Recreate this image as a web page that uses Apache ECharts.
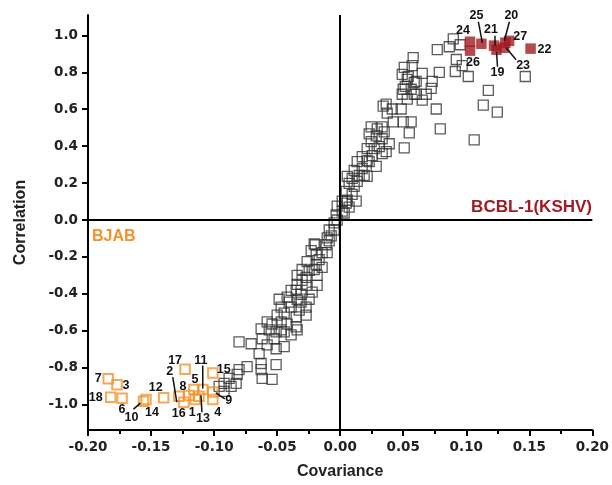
<!DOCTYPE html>
<html>
<head>
<meta charset="utf-8">
<script src="https://cdn.jsdelivr.net/npm/echarts@6/dist/echarts.min.js"></script>
<style>html,body{margin:0;padding:0;background:#fff}#c{width:612px;height:485px}</style>
</head>
<body>
<div id="c"></div>
<script>
// ---- data ----
var grayCov = [0.077,0.0865,0.0897,0.0952,0.0921,0.0968,0.0913,0.1016,0.1468,0.1175,0.1135,0.1246,0.1063,0.0762,0.0794,0.0786,0.073,
0.0579,0.0508,0.0571,0.0492,0.0532,0.0651,0.0603,0.0722,0.0516,0.0563,0.0492,0.0587,0.0683,0.0532,0.0651,0.0365,0.0413,0.0484,0.0373,0.0421,0.05,0.0563,0.0548,0.0508,
0.0246,0.0333,0.023,0.0286,0.0333,0.0389,0.0246,0.031,0.0214,0.0365,0.0175,0.0254,0.0214,0.0286,0.0135,0.0175,0.0111,0.0151,0.0095,0.0056,0.0071,0.0135,0.0111,0.0214,
0.0095,0.0056,0.0127,0.0048,0.0071,-0.0024,0.0016,-0.0032,-0.0024,-0.0048,-0.0048,-0.0087,-0.0071,-0.0103,-0.0206,-0.0087,-0.0111,-0.0198,-0.0143,-0.019,-0.0103,
-0.0262,-0.019,-0.0302,-0.0246,-0.0206,-0.0143,-0.0341,-0.027,-0.0183,-0.0341,-0.027,-0.0183,-0.0389,-0.0349,-0.031,-0.0421,-0.0341,-0.0246,-0.0484,-0.0468,-0.0389,-0.031,-0.027,
-0.0444,-0.0349,-0.027,-0.05,-0.054,-0.0468,-0.0421,-0.0349,-0.0563,-0.0627,-0.0468,-0.0341,-0.0508,-0.0444,-0.0389,-0.0619,-0.0524,-0.0579,-0.0508,-0.0444,
-0.0802,-0.0706,-0.0643,-0.0627,-0.0508,-0.0627,-0.0619,-0.054,-0.0738,-0.0802,-0.0817,-0.0825,-0.0881,-0.0921,-0.0865,-0.096,-0.0921,
0.054,0.0587,0.05,0.0603,0.0341,0.0294,0.0349,0.027,0.0333,0.023,0.019,0.0048,0.0016,0.0032,-0.023,-0.0167,-0.0302,-0.0222,-0.0405,-0.0325,-0.0579];
var grayCorr = [0.922,0.938,0.981,0.949,0.869,0.836,0.804,0.777,0.777,0.702,0.622,0.584,0.434,0.601,0.493,0.799,0.751,
0.879,0.826,0.836,0.788,0.761,0.794,0.751,0.713,0.724,0.708,0.681,0.681,0.681,0.654,0.649,0.627,0.601,0.601,0.579,0.531,0.531,0.531,0.472,0.391,
0.504,0.504,0.466,0.456,0.44,0.413,0.424,0.397,0.386,0.37,0.343,0.349,0.322,0.29,0.316,0.279,0.268,0.241,0.225,0.236,0.198,0.209,0.182,0.236,
0.139,0.107,0.102,0.091,0.07,0.075,0.048,0.027,0,-0.016,-0.054,-0.054,-0.086,-0.097,-0.129,-0.113,-0.134,-0.134,-0.177,-0.188,-0.177,
-0.225,-0.241,-0.268,-0.273,-0.268,-0.257,-0.3,-0.311,-0.3,-0.349,-0.354,-0.354,-0.381,-0.381,-0.402,-0.418,-0.429,-0.429,-0.429,-0.472,-0.472,-0.445,-0.472,
-0.504,-0.525,-0.515,-0.515,-0.563,-0.552,-0.563,-0.579,-0.595,-0.59,-0.595,-0.595,-0.606,-0.606,-0.622,-0.643,-0.643,-0.676,-0.697,-0.686,
-0.66,-0.67,-0.724,-0.777,-0.783,-0.81,-0.858,-0.863,-0.794,-0.81,-0.836,-0.885,-0.858,-0.885,-0.901,-0.901,-0.928,
0.777,0.745,0.708,0.681,0.617,0.493,0.477,0.386,0.359,0.316,0.241,0.155,0.102,0.038,-0.166,-0.214,-0.327,-0.391,-0.445,-0.488,-0.552];

var bjabIds  = ['1','2','3','4','5','6','7','8','9','10','11','12','13','14','15','16','17','18'];
var bjabCov  = [-0.115,-0.128,-0.177,-0.101,-0.116,-0.173,-0.184,-0.120,-0.101,-0.156,-0.109,-0.140,-0.112,-0.154,-0.101,-0.124,-0.123,-0.182];
var bjabCorr = [-0.972,-0.954,-0.892,-0.972,-0.918,-0.965,-0.860,-0.950,-0.931,-0.981,-0.918,-0.963,-0.954,-0.972,-0.829,-0.987,-0.808,-0.960];

var kshvIds  = ['19','20','21','22','23','24','25','26','27'];
var kshvCov  = [0.124,0.131,0.122,0.151,0.130,0.103,0.112,0.103,0.134];
var kshvCorr = [0.922,0.960,0.944,0.928,0.933,0.965,0.954,0.917,0.970];

var xTicks = [-0.20,-0.15,-0.10,-0.05,0.00,0.05,0.10,0.15,0.20];
var yTicks = [-1.0,-0.8,-0.6,-0.4,-0.2,0.0,0.2,0.4,0.6,0.8,1.0];

// ---- label layout (pixel offsets from each point: label centre, optional leader line) ----
var labelLayout = {
 '1':{d:[-3,13]}, '2':{d:[-9,-25],l:[-6,-19,-2,6]}, '3':{d:[9,1]}, '4':{d:[5,13]}, '5':{d:[1,-10]},
 '6':{d:[0,11]}, '7':{d:[-10,0]}, '8':{d:[-6,-9]}, '9':{d:[16,9],l:[3,1,12,7]}, '10':{d:[-12,16],l:[-3,2,-10,8]},
 '11':{d:[-2,-29],l:[0,-24,0,-1]}, '12':{d:[-8,-10]}, '13':{d:[4,22],l:[2,-1,3,16]}, '14':{d:[6,13]},
 '15':{d:[11,-4]}, '16':{d:[-5,11]}, '17':{d:[-10,-9]}, '18':{d:[-15,0]},
 '19':{d:[1,23],l:[0,2,1,17]}, '20':{d:[6,-27],l:[4,-21,-1,-2]}, '21':{d:[-3,-16],l:[1,-10,1,0]},
 '22':{d:[14,1]}, '23':{d:[19,18],l:[12,12,2,0]}, '24':{d:[-7,-11]}, '25':{d:[-5,-28],l:[-3,-22,1,-1]},
 '26':{d:[3,12]}, '27':{d:[11,-4]}
};

function zip(a,b){return a.map(function(v,i){return [v,b[i]];});}

var FONT = '"Liberation Sans", Arial, sans-serif';
var TICKFONT = '"DejaVu Sans", sans-serif';
var chart = echarts.init(document.getElementById('c'), null, {renderer:'canvas'});
var option = {
  animation:false,
  grid:{left:88,right:19,top:15,bottom:51,containLabel:false},
  xAxis:{
    type:'value', min:-0.2, max:0.2, interval:0.05,
    axisLine:{onZero:false, lineStyle:{color:'#000',width:2}},
    axisTick:{show:true,length:6,lineStyle:{color:'#000',width:2}},
    minorTick:{show:true,splitNumber:2,length:4,lineStyle:{color:'#000',width:2}},
    splitLine:{show:false},
    axisLabel:{color:'#222',fontFamily:TICKFONT,fontWeight:'bold',fontSize:13.5,margin:10,
      formatter:function(v){return v.toFixed(2);}},
    name:'Covariance', nameLocation:'middle', nameGap:34,
    nameTextStyle:{color:'#222',fontFamily:FONT,fontWeight:'bold',fontSize:16}
  },
  yAxis:{
    type:'value', min:-1.137, max:1.11,
    axisLine:{onZero:false, lineStyle:{color:'#000',width:2}},
    axisTick:{show:true,length:6,customValues:yTicks,lineStyle:{color:'#000',width:2}},
    splitLine:{show:false},
    axisLabel:{customValues:yTicks,color:'#222',fontFamily:TICKFONT,fontWeight:'bold',fontSize:13.5,margin:10,
      formatter:function(v){return (Math.abs(v)<1e-9?0:v).toFixed(1);}},
    name:'Correlation', nameLocation:'middle', nameGap:59,
    nameTextStyle:{color:'#222',fontFamily:FONT,fontWeight:'bold',fontSize:16}
  },
  series:[
    {type:'scatter', data:zip(grayCov,grayCorr), symbol:'rect', symbolSize:10,
     itemStyle:{color:'rgba(0,0,0,0)',borderColor:'#333',borderWidth:1.3},
     markLine:{silent:true,symbol:['none','none'],label:{show:false},
       lineStyle:{color:'#000',width:2,type:'solid'},
       data:[{xAxis:0},{yAxis:0}]}},
    {type:'scatter', data:zip(bjabCov,bjabCorr), symbol:'rect', symbolSize:9.5,
     itemStyle:{color:'rgba(255,255,255,0)',borderColor:'#f3922b',borderWidth:2}},
    {type:'scatter', data:zip(kshvCov,kshvCorr), symbol:'rect', symbolSize:10.5,
     itemStyle:{color:'#a11b22',borderColor:'#a11b22',borderWidth:0}}
  ]
};
chart.setOption(option);

function buildLabels(){
  var g = [];
  function add(ids,xs,ys){
    ids.forEach(function(id,i){
      var p = chart.convertToPixel({gridIndex:0},[xs[i],ys[i]]);
      var L = labelLayout[id];
      g.push({type:'text', x:p[0]+L.d[0], y:p[1]+L.d[1], z:10,
        style:{text:id, fill:'#111', font:'bold 12.5px '+FONT, textAlign:'center', textVerticalAlign:'middle'}});
      if(L.l){
        g.push({type:'line', z:10, shape:{x1:p[0]+L.l[0],y1:p[1]+L.l[1],x2:p[0]+L.l[2],y2:p[1]+L.l[3]},
          style:{stroke:'#111',lineWidth:1.5}});
      }
    });
  }
  add(bjabIds,bjabCov,bjabCorr);
  add(kshvIds,kshvCov,kshvCorr);
  g.push({type:'text', left:92, top:229, style:{text:'BJAB', fill:'#f3922b', font:'bold 16px '+FONT}});
  g.push({type:'text', right:20, top:199, style:{text:'BCBL-1(KSHV)', fill:'#a11b22', font:'bold 17px '+FONT}});
  chart.setOption({graphic:g});
}
buildLabels();
</script>
</body>
</html>
